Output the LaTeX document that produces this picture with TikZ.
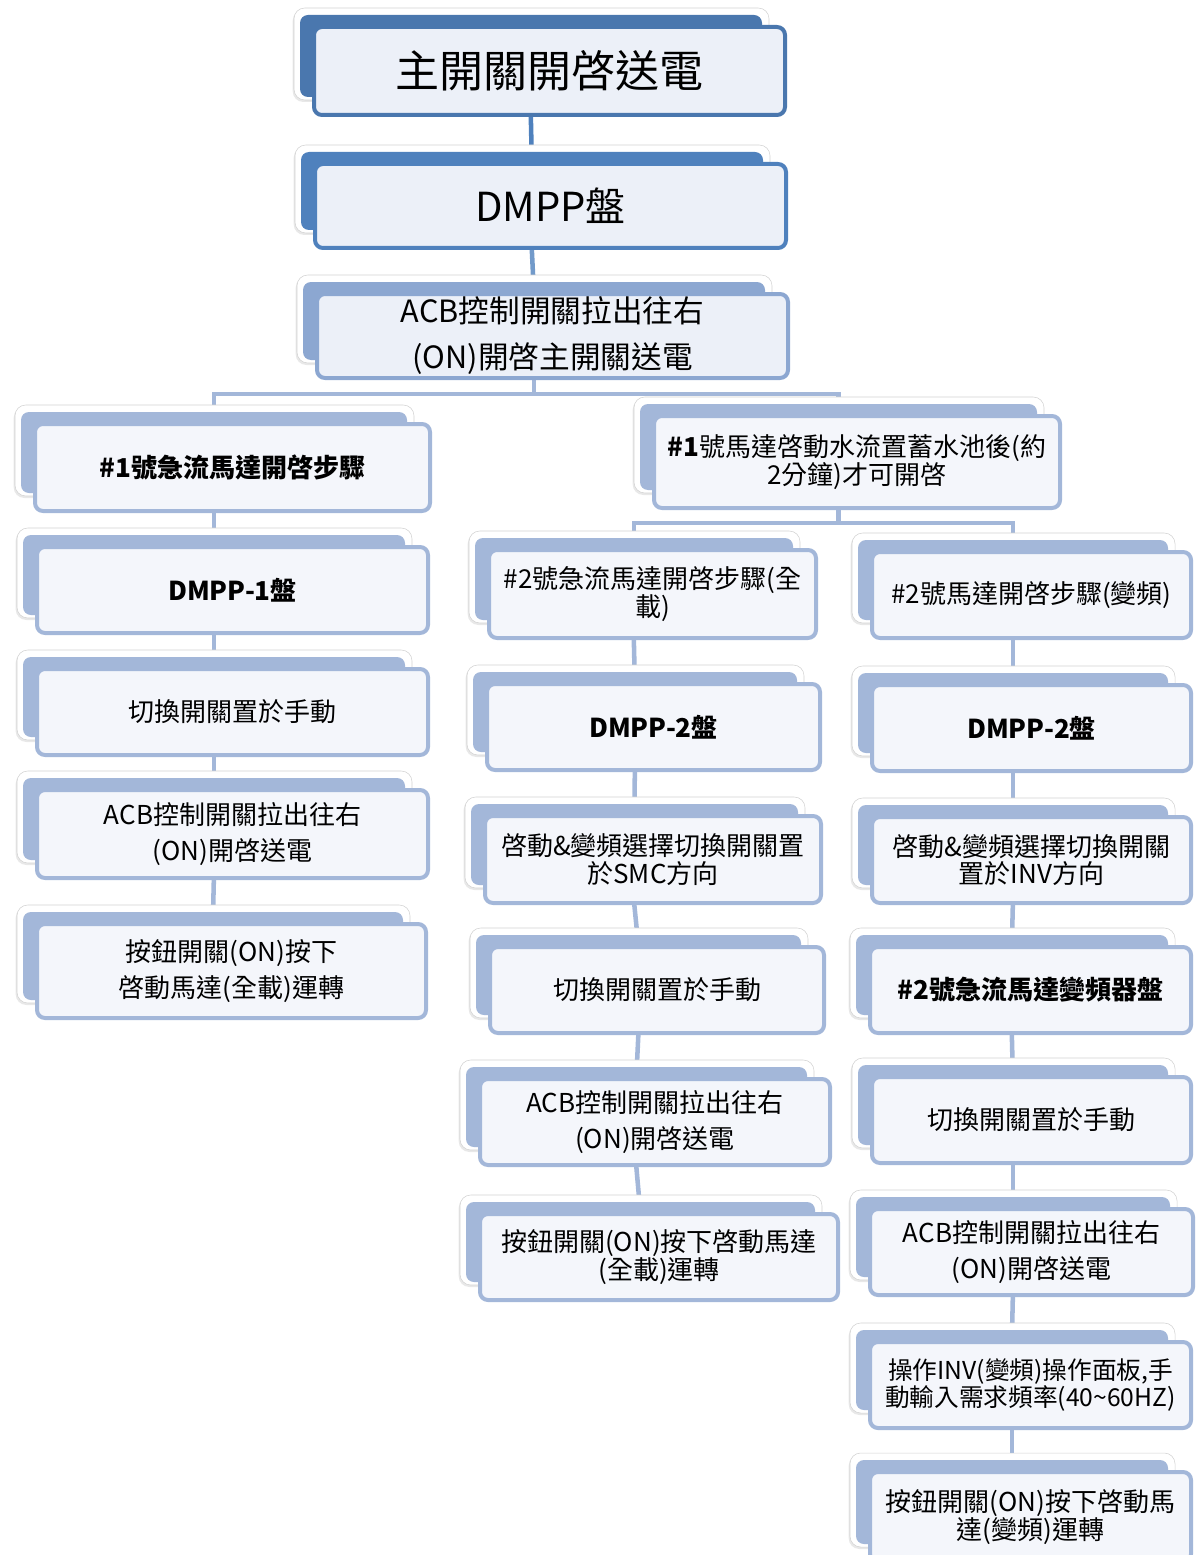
\documentclass[tikz,border=0pt]{standalone}
\usepackage{fontspec}
\setmainfont{Noto Sans CJK TC}
\usepackage{xcolor}
\usepackage{tikz}
\usetikzlibrary{backgrounds,shadows}

\definecolor{dunkelblau}{HTML}{4A77AE}
\definecolor{mittelblau}{HTML}{4F81BD}
\definecolor{acbblau}{HTML}{8CA7D1}
\definecolor{hellblau}{HTML}{A3B7D9}
\definecolor{boxfill}{HTML}{F4F6FB}
\definecolor{topfill}{HTML}{ECF0F8}

\tikzset{
    box/.style={draw=#1, line width=3pt, rounded corners=6pt, fill=boxfill, align=center, inner sep=0pt},
    box/.default=hellblau,
    sz/.style 2 args={minimum width=(#1-4)*0.75pt, minimum height=(#2-4)*0.75pt},
    klein/.style={font=\fontsize{19.5}{20.5}\selectfont},
    weit/.style={font=\fontsize{19.5}{27.5}\selectfont},
    link/.style={draw=hellblau, line width=3.4pt}
}

\begin{document}
\begin{tikzpicture}[x=0.75pt, y=-0.75pt] % Pixelraster des Originals

    \useasboundingbox (0,0) rectangle (1195,1555);

    % Hauptstrang
    \node (haupt) at (549.5,71) [box=dunkelblau, sz={475}{92}, fill=topfill, font=\fontsize{33}{40}\selectfont] {主開關開啓送電};
    \node (dmpp) at (550.5,206) [box=mittelblau, sz={475}{88}, fill=topfill, font=\fontsize{30}{36}\selectfont] {DMPP盤};
    \node (acb) at (552.5,336) [box=acbblau, sz={475}{88}, fill=topfill, font=\fontsize{23}{34.5}\selectfont] {ACB控制開關拉出往右\\(ON)開啓主開關送電};

    % linker Zweig (Motor 1)
    \node (l1) at (232.5,467.5) [box, sz={399}{91}, klein] {\textbf{\#1號急流馬達開啓步驟}};
    \node (l2) at (232.5,590) [box, sz={395}{90}, klein] {\textbf{DMPP-1盤}};
    \node (l3) at (232.5,712) [box, sz={395}{90}, klein] {切換開關置於手動};
    \node (l4) at (232.5,834) [box, sz={395}{92}, weit] {ACB控制開關拉出往右\\(ON)開啓送電};
    \node (l5) at (231.5,971) [box, sz={393}{98}, weit] {按鈕開關(ON)按下\\啓動馬達(全載)運轉};

    % rechter Zweig
    \node (wasser) at (857,462) [box, sz={410}{96}, font=\fontsize{19.5}{21}\selectfont] {\textbf{\#1}號馬達啓動水流置蓄水池後(約\\2分鐘)才可開啓};

    % Motor 2, Vollast
    \node (m1) at (652.5,594) [box, sz={331}{92}, klein] {\#2號急流馬達開啓步驟(全\\載)};
    \node (m2) at (653.5,727) [box, sz={337}{90}, klein] {\textbf{DMPP-2盤}};
    \node (m3) at (653,859.5) [box, sz={340}{91}, klein] {啓動\&變頻選擇切換開關置\\於SMC方向};
    \node (m4) at (657,990) [box, sz={338}{90}, klein] {切換開關置於手動};
    \node (m5) at (655,1122) [box, sz={354}{90}, weit] {ACB控制開關拉出往右\\(ON)開啓送電};
    \node (m6) at (659,1257) [box, sz={362}{90}, klein] {按鈕開關(ON)按下啓動馬達\\(全載)運轉};

    % Motor 2, Umrichter
    \node (r1) at (1031.5,595) [box, sz={323}{90}, klein] {\#2號馬達開啓步驟(變頻)};
    \node (r2) at (1031.5,728) [box, sz={323}{90}, klein] {\textbf{DMPP-2盤}};
    \node (r3) at (1031.5,860) [box, sz={323}{90}, klein] {啓動\&變頻選擇切換開關\\置於INV方向};
    \node (r4) at (1030.5,990) [box, sz={325}{90}, klein] {\textbf{\#2號急流馬達變頻器盤}};
    \node (r5) at (1031.5,1120) [box, sz={323}{90}, klein] {切換開關置於手動};
    \node (r6) at (1031.5,1252) [box, sz={327}{90}, weit] {ACB控制開關拉出往右\\(ON)開啓送電};
    \node (r7) at (1030.5,1385) [box, sz={325}{90}, font=\fontsize{18.5}{20.5}\selectfont] {操作INV(變頻)操作面板,手\\動輸入需求頻率(40\textasciitilde 60HZ)};
    \node (r8) at (1030.5,1517) [box, sz={325}{94}, klein] {按鈕開關(ON)按下啓動馬\\達(變頻)運轉};

    \begin{scope}[on background layer]
        % Verbindungen
        \draw[link, draw=mittelblau] ([xshift=-14pt]haupt.south) -- ([xshift=-14pt]dmpp.north);
        \draw[link, draw=mittelblau!80] ([xshift=-14pt]dmpp.south) -- ([xshift=-14pt]acb.north);
        \draw[link] ([xshift=-14pt]acb.south) -- ++(0,14) -| ([xshift=-14pt]l1.north);
        \draw[link] ([xshift=-14pt]acb.south) -- ++(0,14) -| ([xshift=-14pt]wasser.north);
        \draw[link] ([xshift=-14pt]wasser.south) -- ++(0,13) -| ([xshift=-14pt]m1.north);
        \draw[link] ([xshift=-14pt]wasser.south) -- ++(0,13) -| ([xshift=-14pt]r1.north);
        \foreach \a/\b in {l1/l2,l2/l3,l3/l4,l4/l5,m1/m2,m2/m3,m3/m4,m4/m5,m5/m6,r1/r2,r2/r3,r3/r4,r4/r5,r5/r6,r6/r7,r7/r8}
            \draw[link] ([xshift=-14pt]\a.south) -- ([xshift=-14pt]\b.north);

        % hintere Ebenen
        \foreach \n/\c in {haupt/dunkelblau,dmpp/mittelblau,acb/acbblau,wasser/hellblau,
            l1/hellblau,l2/hellblau,l3/hellblau,l4/hellblau,l5/hellblau,
            m1/hellblau,m2/hellblau,m3/hellblau,m4/hellblau,m5/hellblau,m6/hellblau,
            r1/hellblau,r2/hellblau,r3/hellblau,r4/hellblau,r5/hellblau,r6/hellblau,r7/hellblau,r8/hellblau} {
            \draw[gray!35, fill=white, rounded corners=8pt, drop shadow={opacity=0.18, shadow xshift=-1pt, shadow yshift=-1.5pt}]
                ([shift={(-18,-17)}]\n.north west) rectangle ([shift={(-18,-17)}]\n.south east);
            \fill[\c, rounded corners=6pt] ([shift={(-12,-10)}]\n.north west) rectangle ([shift={(-25,-20)}]\n.south east);
        }
    \end{scope}

\end{tikzpicture}
\end{document}
